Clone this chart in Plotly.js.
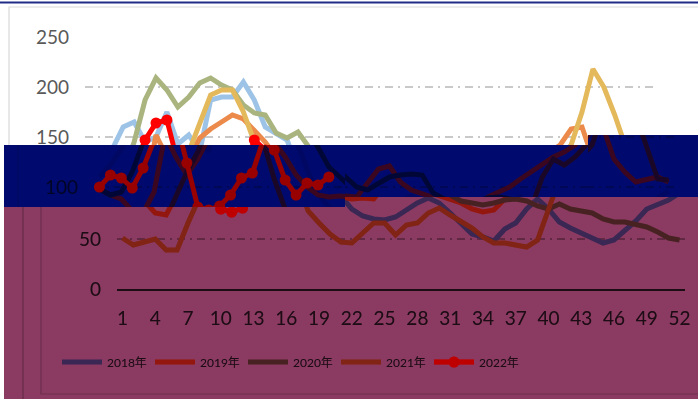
<!DOCTYPE html>
<html>
<head>
<meta charset="utf-8">
<script src="https://cdn.plot.ly/plotly-3.0.1.min.js"></script>
<style>
html,body{margin:0;padding:0;background:#fff;overflow:hidden}
#stage{position:relative;width:698px;height:403px;overflow:hidden;background:#fff}
.clip{position:absolute;overflow:hidden;background:#fff}
.plot{position:absolute;width:760px;height:403px}
</style>
</head>
<body>
<svg width="0" height="0" style="position:absolute">
  <defs>
    <filter id="fBand" color-interpolation-filters="sRGB" x="0" y="0" width="100%" height="100%">
      <feColorMatrix type="matrix" values="0.6 -0.6 0 0 0  0 0.04 0 0 0  0 0 0.43 0 0  0 0 0 1 0"/>
    </filter>
    <filter id="fLow" color-interpolation-filters="sRGB" x="0" y="0" width="100%" height="100%">
      <feComponentTransfer>
        <feFuncR type="gamma" amplitude="1" exponent="1.5" offset="0"/>
        <feFuncG type="gamma" amplitude="1" exponent="1.5" offset="0"/>
        <feFuncB type="gamma" amplitude="1" exponent="1.5" offset="0"/>
      </feComponentTransfer>
      <feColorMatrix type="matrix" values="0.745 -0.2 0 0 0  0 0.227 0 0 0  0 0 0.384 0 0  0 0 0 1 0"/>
    </filter>
  </defs>
</svg>
<div id="stage"></div>
<script>
// ---- data (week numbers 1..52) ----
const seriesNames = ['2018年','2019年','2020年','2021年','2022年'];
const xTickVals = [1,4,7,10,13,16,19,22,25,28,31,34,37,40,43,46,49,52];
const xTickText = ['1','4','7','10','13','16','19','22','25','28','31','34','37','40','43','46','49','52'];
const yTickVals = [0,50,100,150,200,250];

const v2018 = [110,122,138,160,165,145,150,175,143,152,
  135,187,190,190,205,187,160,154,147,118,
  93,80,73,70,69,72,79,86,91,86,
  76,66,55,52,48,60,66,80,90,80,
  67,61,56,52,46,49,58,68,80,84,
  89,96];
const v2019 = [98,92,88,76,74,95,152,130,112,128,
  149,158,165,172,168,157,145,130,112,100,
  92,90,91,90,105,118,121,105,97,93,
  90,86,80,77,79,90,95,100,108,115,
  122,130,135,142,158,160,128,115,105,108,
  110,105];
const v2020 = [98,92,95,115,145,187,209,197,180,190,
  204,209,202,197,182,174,172,154,149,155,
  140,120,110,100,97,103,110,112,113,112,
  94,88,86,84,86,89,90,88,83,80,
  85,80,78,76,70,67,67,65,62,57,
  51,49];
const v2021 = [51,44,47,50,39,39,66,92,115,135,
  165,192,197,197,175,145,108,78,66,55,
  47,46,56,66,66,54,64,66,76,81,
  74,67,61,52,46,46,44,42,49,80,
  110,128,122,130,142,175,218,200,172,140,
  108,107];
const v2022 = [100,112,109,99,119,147,164,167,124,80,
  77,81,92,109,114,147,137,107,92,104,
  102,110];

const seriesValues = [v2018, v2019, v2020, v2021, v2022];
const seriesColors = ['#9DC3E6','#EB8A4A','#A9B47F','#E4B95B','#FF0000'];

// ---- layout geometry (px) ----
const W = 760, H = 403, L = 117, PW = 568, T = 37, PH = 250;
const px = x => (x - L) / PW;
const py = y => (T + PH - y) / PH;
const FONT = 'Lato, "Noto Sans CJK SC", sans-serif';

function buildTraces(){
  return seriesValues.map((vals, i) => {
    const t = {
      type:'scatter',
      x: vals.map((_, k) => k + 1),
      y: vals,
      name: seriesNames[i],
      mode: i === 4 ? 'lines+markers' : 'lines',
      line: {color: seriesColors[i], width: 5},
      hoverinfo: 'skip'
    };
    if (i === 4) t.marker = {color: seriesColors[i], size: 11};
    return t;
  });
}

// opts: which texts this copy shows (each text is drawn by exactly one copy)
function buildLayout(opts){
  return {
    width: W, height: H,
    margin: {l: L, r: W - L - PW, t: T, b: H - T - PH, pad: 0},
    paper_bgcolor: '#ffffff', plot_bgcolor: '#ffffff',
    font: {family: FONT, color: '#595959'},
    showlegend: !!opts.legend,
    legend: {
      orientation: 'h', x: px(57), y: py(360), xanchor: 'left', yanchor: 'middle',
      font: {size: 12, family: FONT, color: '#595959'},
      entrywidth: 38, entrywidthmode: 'pixels', itemwidth: 40,
      bgcolor: 'rgba(0,0,0,0)', traceorder: 'normal'
    },
    xaxis: {
      range: [0.5, 52.5], tickmode: 'array', tickvals: xTickVals, ticktext: xTickText,
      showticklabels: !!opts.xLabels,
      showgrid: false, zeroline: false, showline: true, linecolor: '#595959', linewidth: 1.5,
      ticks: '', tickfont: {size: 19, family: FONT, color: '#595959'}, ticklabelstandoff: 12,
      fixedrange: true
    },
    yaxis: {
      range: [0, 250], tickmode: 'array', tickvals: yTickVals,
      ticktext: yTickVals.map(v => opts.yLabels.indexOf(v) >= 0 ? String(v) : ''),
      showgrid: true, gridcolor: '#C9C9C9', gridwidth: 1.3, griddash: '8px,5px,2px,5px',
      zeroline: false, showline: false, ticks: '',
      tickfont: {size: 19, family: FONT, color: '#595959'}, ticklabelstandoff: 15,
      fixedrange: true
    },
    shapes: [
      {type:'rect', xref:'paper', yref:'paper', x0:px(41), x1:px(745), y0:py(392), y1:py(7),
       line:{color:'#D9D9D9', width:1.2}, fillcolor:'rgba(0,0,0,0)', layer:'below'},
      {type:'line', xref:'paper', yref:'paper', x0:px(23), x1:px(23), y0:py(403), y1:py(7),
       line:{color:'#D0D0D0', width:1.2}, layer:'below'},
      {type:'line', xref:'paper', yref:'paper', x0:px(-40), x1:px(800), y0:py(2.5), y1:py(2.5),
       line:{color:'#1F2D86', width:2}, layer:'above'}
    ]
  };
}

// copies of the chart: base, lower block, three band blocks (drawn in this order)
const blocks = [
  {left:0,   top:0,   w:698, h:403, dx:-32, dy:0, filter:null,    opts:{yLabels:[150,200,250]}},
  {left:4,   top:197, w:694, h:202, dx:0,   dy:2, filter:'fLow',  opts:{yLabels:[0,50], xLabels:true, legend:true}},
  {left:4,   top:145, w:341, h:62,  dx:-23, dy:0, filter:'fBand', opts:{yLabels:[100]}},
  {left:345, top:145, w:243, h:52,  dx:-17, dy:0, filter:'fBand', opts:{yLabels:[]}},
  {left:588, top:135, w:110, h:62,  dx:-11, dy:0, filter:'fBand', opts:{yLabels:[]}}
];

const stage = document.getElementById('stage');
blocks.forEach((b, i) => {
  const c = document.createElement('div');
  c.className = 'clip';
  c.style.left = b.left + 'px'; c.style.top = b.top + 'px';
  c.style.width = b.w + 'px'; c.style.height = b.h + 'px';
  if (b.filter) c.style.filter = 'url(#' + b.filter + ')';
  const p = document.createElement('div');
  p.className = 'plot';
  p.id = 'plot' + i;
  p.style.left = (b.dx - b.left) + 'px';
  p.style.top = (b.dy - b.top) + 'px';
  c.appendChild(p);
  stage.appendChild(c);
  Plotly.newPlot(p, buildTraces(), buildLayout(b.opts), {staticPlot: true, displayModeBar: false});
});
</script>
</body>
</html>
